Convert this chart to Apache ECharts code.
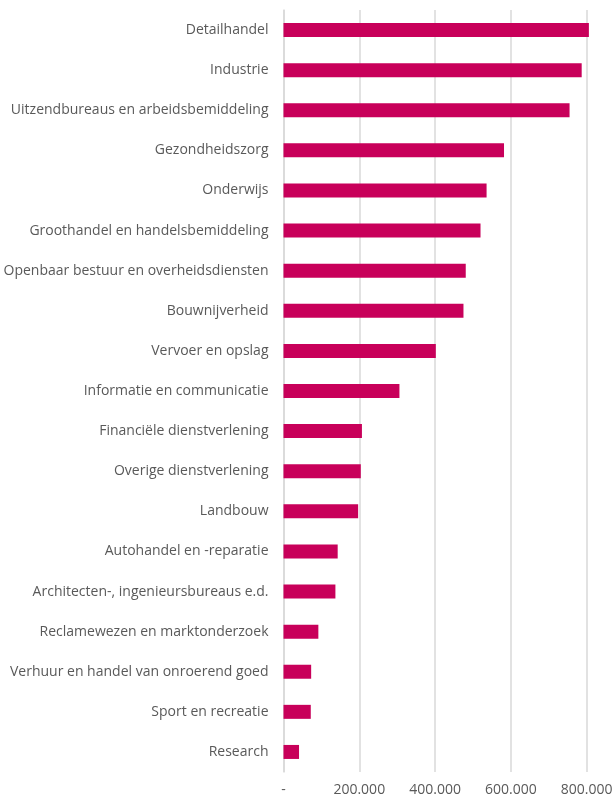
<!DOCTYPE html>
<html><head><meta charset="utf-8">
<script src="https://cdn.jsdelivr.net/npm/echarts@6/dist/echarts.min.js"></script>
<style>html,body{margin:0;padding:0;background:#fff;overflow:hidden}#c{width:615px;height:799px}</style>
</head><body><div id="c"></div>
<script>
const categories = ["Detailhandel","Industrie","Uitzendbureaus en arbeidsbemiddeling","Gezondheidszorg","Onderwijs","Groothandel en handelsbemiddeling","Openbaar bestuur en overheidsdiensten","Bouwnijverheid","Vervoer en opslag","Informatie en communicatie","Financiële dienstverlening","Overige dienstverlening","Landbouw","Autohandel en -reparatie","Architecten-, ingenieursbureaus e.d.","Reclamewezen en marktonderzoek","Verhuur en handel van onroerend goed","Sport en recreatie","Research"];
const values = [806000,787000,755000,582000,536000,520000,481000,475000,402000,306000,207000,204000,197000,143000,137000,92000,73000,72000,41000];

const chart = echarts.init(document.getElementById('c'), null, {renderer:'canvas'});
const fmt = v => v === 0 ? '-' : v.toLocaleString('de-DE');
chart.setOption({
  animation:false,
  grid:{left:283.5,top:10,height:762,width:341,containLabel:false,outerBoundsMode:'none'},
  xAxis:{type:'value',min:0,max:900000,interval:200000,
    axisLine:{show:false},axisTick:{show:false},
    splitLine:{lineStyle:{color:'#d9d9d9',width:1.5}},
    axisLabel:{formatter:fmt,color:'#595959',fontSize:14,fontFamily:'Open Sans',margin:11}},
  yAxis:{type:'category',inverse:true,data:categories,
    axisLine:{lineStyle:{color:'#d9d9d9',width:1.5}},
    axisTick:{length:5,lineStyle:{color:'#d9d9d9',width:1.5}},
    axisLabel:{color:'#595959',fontSize:14,fontFamily:'Open Sans',margin:15}},
  series:[{type:'bar',data:values,barWidth:14,itemStyle:{color:'#C8005A'}}]
});
</script></body></html>
